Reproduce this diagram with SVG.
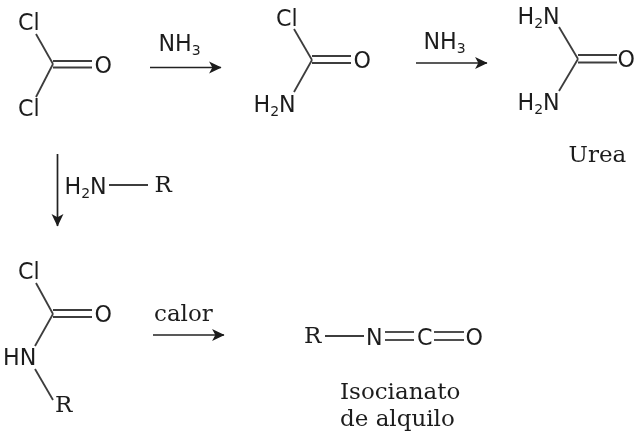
<svg xmlns="http://www.w3.org/2000/svg" width="640" height="435" viewBox="0 0 640 435">
<defs>
<marker id="ah" viewBox="0 0 12 12" refX="11" refY="6" markerWidth="13" markerHeight="13" markerUnits="userSpaceOnUse" orient="auto"><path d="M0 0.5L11.5 6L0 11.5L3 6Z" fill="#1a1a1a"/></marker>
<filter id="soft" x="0" y="0" width="1" height="1" filterUnits="objectBoundingBox"><feGaussianBlur stdDeviation="0.35"/></filter>
</defs>
<style>
text{fill:#1c1c1c;font-size:22.2px}
.a{font-family:"DejaVu Sans",sans-serif}
.s{font-family:"DejaVu Serif",serif;font-size:23px}
.b line{stroke:#3c3c3c;stroke-width:1.8;fill:none}
.r{stroke:#222;stroke-width:1.7;fill:none;marker-end:url(#ah)}
</style>
<rect width="640" height="435" fill="#fff"/>
<g filter="url(#soft)">
<g id="connectors">
<line class="r" x1="150" y1="67.5" x2="221" y2="67.5"/>
<line class="r" x1="416" y1="63" x2="487" y2="63"/>
<line class="r" x1="57.5" y1="154" x2="57.5" y2="226"/>
<line class="r" x1="153" y1="335" x2="224" y2="335"/>
</g>
<g id="phosgene" class="b">
<line x1="36" y1="34" x2="53" y2="64"/><line x1="53" y1="64" x2="36" y2="97"/>
<line x1="53" y1="61" x2="92" y2="61"/><line x1="53" y1="67.5" x2="92" y2="67.5"/>
<text class="a" x="18" y="30">Cl</text><text class="a" x="18" y="116">Cl</text><text class="a" x="94.5" y="73">O</text>
</g>
<g id="reagent-nh3-1"><text class="a" x="158.5" y="51">NH<tspan font-size="14" dy="4">3</tspan></text></g>
<g id="carbamoyl" class="b">
<line x1="294" y1="29" x2="312" y2="60"/><line x1="312" y1="60" x2="294" y2="92"/>
<line x1="312" y1="56" x2="351" y2="56"/><line x1="312" y1="63" x2="351" y2="63"/>
<text class="a" x="276" y="26">Cl</text><text class="a" x="353.5" y="68">O</text>
<text class="a" x="253.5" y="112">H<tspan font-size="14" dy="4">2</tspan><tspan dy="-4">N</tspan></text>
</g>
<g id="reagent-nh3-2"><text class="a" x="423.5" y="49">NH<tspan font-size="14" dy="4">3</tspan></text></g>
<g id="urea" class="b">
<line x1="559" y1="27" x2="578" y2="59"/><line x1="578" y1="59" x2="559" y2="91"/>
<line x1="578" y1="55" x2="617" y2="55"/><line x1="578" y1="62.5" x2="617" y2="62.5"/>
<text class="a" x="517.5" y="24">H<tspan font-size="14" dy="4">2</tspan><tspan dy="-4">N</tspan></text>
<text class="a" x="517.5" y="110">H<tspan font-size="14" dy="4">2</tspan><tspan dy="-4">N</tspan></text>
<text class="a" x="617.5" y="67">O</text>
<text class="s" x="568.5" y="162">Urea</text>
</g>
<g id="amine" class="b">
<line x1="109" y1="185" x2="148" y2="185"/>
<text class="a" x="64.5" y="194">H<tspan font-size="14" dy="4">2</tspan><tspan dy="-4">N</tspan></text>
<text class="s" x="154.5" y="192">R</text>
</g>
<g id="carbamoyl-r" class="b">
<line x1="36" y1="283" x2="53" y2="314"/><line x1="53" y1="314" x2="35" y2="346"/><line x1="35" y1="369" x2="53" y2="400"/>
<line x1="53" y1="310" x2="92" y2="310"/><line x1="53" y1="317" x2="92" y2="317"/>
<text class="a" x="18" y="279">Cl</text><text class="a" x="94.5" y="322">O</text><text class="a" x="3" y="365">HN</text>
<text class="s" x="55" y="412">R</text>
</g>
<g id="heat"><text class="s" x="154" y="321">calor</text></g>
<g id="isocyanate" class="b">
<line x1="325" y1="336" x2="364" y2="336"/>
<line x1="385" y1="332" x2="414" y2="332"/><line x1="385" y1="340" x2="414" y2="340"/>
<line x1="434" y1="332" x2="464" y2="332"/><line x1="434" y1="340" x2="464" y2="340"/>
<text class="s" x="304" y="343">R</text><text class="a" x="366" y="345">N</text><text class="a" x="417" y="345">C</text><text class="a" x="465.5" y="345">O</text>
<text class="s" x="340" y="399">Isocianato</text><text class="s" x="340" y="426">de alquilo</text>
</g>
</g>
</svg>
